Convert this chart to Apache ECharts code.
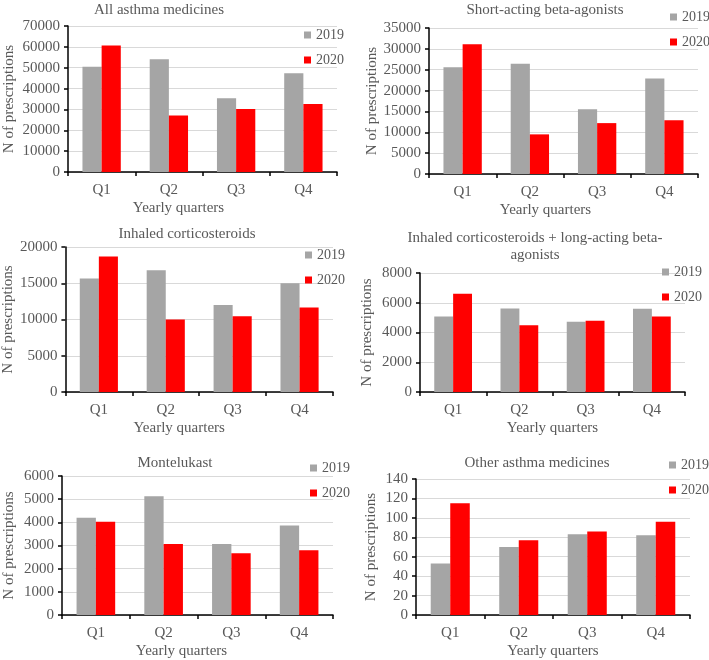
<!DOCTYPE html>
<html>
<head>
<meta charset="utf-8">
<script src="https://cdn.jsdelivr.net/npm/echarts@6/dist/echarts.min.js"></script>
<style>
html,body{margin:0;padding:0;background:#fff;}
#chart{width:709px;height:660px;}
</style>
</head>
<body>
<div id="chart"></div>
<script>
const categories = ['Q1', 'Q2', 'Q3', 'Q4'];
const seriesNames = ['2019', '2020'];

const allMedicines2019 = [50500, 54000, 35400, 47400];
const allMedicines2020 = [60600, 27100, 30200, 32600];
const saba2019 = [25600, 26400, 15500, 22900];
const saba2020 = [31100, 9500, 12200, 12900];
const ics2019 = [15650, 16800, 12000, 15000];
const ics2020 = [18700, 10000, 10450, 11650];
const icsLaba2019 = [5080, 5620, 4720, 5600];
const icsLaba2020 = [6600, 4480, 4790, 5080];
const montelukast2019 = [4200, 5130, 3070, 3860];
const montelukast2020 = [4030, 3060, 2670, 2790];
const other2019 = [53, 70, 83, 82];
const other2020 = [115, 77, 86, 96];

const panelTitles = [
  'All asthma medicines',
  'Short-acting beta-agonists',
  'Inhaled corticosteroids',
  'Inhaled corticosteroids + long-acting beta-\nagonists',
  'Montelukast',
  'Other asthma medicines'
];
const axisMax = [70000, 35000, 20000, 8000, 6000, 140];
const axisInterval = [10000, 5000, 5000, 2000, 1000, 20];
const yAxisTitle = 'N of prescriptions';
const xAxisTitle = 'Yearly quarters';

const panelData = [
  [allMedicines2019, allMedicines2020],
  [saba2019, saba2020],
  [ics2019, ics2020],
  [icsLaba2019, icsLaba2020],
  [montelukast2019, montelukast2020],
  [other2019, other2020]
];

// layout (pixels)
const grids = [
  {left: 68, top: 26, width: 269, height: 146},
  {left: 429, top: 28, width: 269, height: 146},
  {left: 63, top: 247, width: 270, height: 145},
  {left: 420, top: 273, width: 265, height: 119},
  {left: 62, top: 476, width: 271, height: 140},
  {left: 416, top: 479, width: 274, height: 137}
];
const titlePos = [
  {x: 159, y: 2}, {x: 545, y: 2}, {x: 187, y: 226}, {x: 535, y: 230}, {x: 175, y: 455}, {x: 537, y: 455}
];
const legendPos = [
  {x: 304, y: 28}, {x: 670, y: 10}, {x: 305, y: 248}, {x: 662, y: 265}, {x: 310, y: 461}, {x: 669, y: 458}
];
const yNameGap = [51, 49, 48, 45, 45, 37];
const xNameShift = [-24, -18, -20, 0, -16, 0];

const FONT = "'Liberation Serif', 'Times New Roman', serif";
const TXT = '#595959';
const colors = ['#a5a5a5', '#ff0000'];

const option = {
  backgroundColor: '#ffffff',
  animation: false,
  textStyle: {fontFamily: FONT, color: TXT},
  title: panelTitles.map((t, i) => ({
    text: t,
    left: titlePos[i].x,
    top: titlePos[i].y,
    textAlign: 'center',
    padding: 0,
    textStyle: {fontFamily: FONT, fontSize: 15, fontWeight: 'normal', color: TXT, lineHeight: 17}
  })),
  legend: legendPos.map(p => ({
    data: seriesNames,
    orient: 'vertical',
    left: p.x,
    top: p.y,
    padding: 0,
    itemWidth: 7,
    itemHeight: 7,
    itemGap: 11,
    icon: 'rect',
    textStyle: {fontFamily: FONT, fontSize: 14, color: TXT}
  })),
  grid: grids.map(g => Object.assign({containLabel: false}, g)),
  xAxis: grids.map((g, i) => {
    const s = xNameShift[i];
    return {
      type: 'category',
      gridIndex: i,
      data: categories,
      name: xAxisTitle,
      nameLocation: 'middle',
      nameGap: 29,
      nameTextStyle: {fontFamily: FONT, fontSize: 15, color: TXT,
        padding: s < 0 ? [0, -2 * s, 0, 0] : [0, 0, 0, 2 * s]},
      axisLine: {show: true, lineStyle: {color: '#000000', width: 1.5}},
      axisTick: {show: true, alignWithLabel: false, length: 4, lineStyle: {color: '#000000', width: 1.5}},
      axisLabel: {fontFamily: FONT, fontSize: 15, color: TXT, margin: 11},
      splitLine: {show: false}
    };
  }),
  yAxis: grids.map((g, i) => ({
    type: 'value',
    gridIndex: i,
    min: 0,
    max: axisMax[i],
    interval: axisInterval[i],
    name: yAxisTitle,
    nameLocation: 'middle',
    nameGap: yNameGap[i],
    nameTextStyle: {fontFamily: FONT, fontSize: 15, color: TXT},
    axisLine: {show: true, lineStyle: {color: '#000000', width: 1.5}},
    axisTick: {show: true, length: 4, lineStyle: {color: '#000000', width: 1.5}},
    axisLabel: {fontFamily: FONT, fontSize: 15, color: TXT, margin: 8,
      formatter: v => String(v)},
    splitLine: {show: true, lineStyle: {color: '#d9d9d9', width: 1}}
  })),
  series: []
};

panelData.forEach((pair, i) => {
  pair.forEach((vals, k) => {
    option.series.push({
      type: 'bar',
      name: seriesNames[k],
      xAxisIndex: i,
      yAxisIndex: i,
      data: vals,
      barGap: '0%',
      barCategoryGap: '43%',
      itemStyle: {color: colors[k]}
    });
  });
});

const chart = echarts.init(document.getElementById('chart'), null, {renderer: 'canvas'});
chart.setOption(option);
</script>
</body>
</html>
